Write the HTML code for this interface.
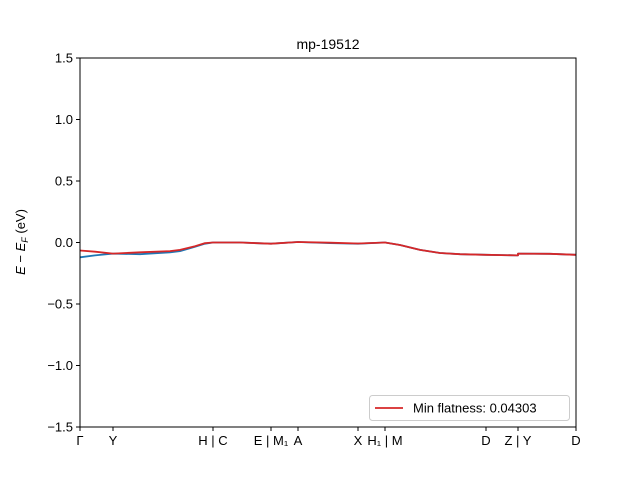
<!DOCTYPE html>
<html><head><meta charset="utf-8"><style>
body{margin:0;background:#fff;}
svg{display:block;font-family:"Liberation Sans","DejaVu Sans",sans-serif;}
</style></head><body>
<svg id="chart" width="640" height="480"></svg>
<script>
const kDist=[0,15,33,60,90,100,115,125,133,160,191,218,250,278,305,320,340,360,380,406,438];
const blueE=[-0.12,-0.105,-0.09,-0.095,-0.08,-0.07,-0.035,-0.01,0,0,-0.01,0.004,-0.005,-0.01,0,-0.02,-0.06,-0.085,-0.095,-0.1,-0.105];
const redE=[-0.065,-0.075,-0.09,-0.08,-0.07,-0.06,-0.03,-0.005,0,0,-0.01,0.004,-0.002,-0.008,0,-0.02,-0.06,-0.085,-0.095,-0.1,-0.105];
const jumpK2=[438,470,496];
const jumpE=[-0.09,-0.092,-0.1];
const tickK=[0,33,133,191,218,278,305,406,438,496];
const tickLabels=["Γ","Y","H | C","E | M₁","A","X","H₁ | M","D","Z | Y","D"];
const yTicks=[-1.5,-1.0,-0.5,0.0,0.5,1.0,1.5];
const L=80,R=576,T=58,B=427;
const xs=k=>L+k/496*(R-L);
const ys=e=>T+(1.5-e)/3*(B-T);
const svg=document.getElementById('chart');
const NS='http://www.w3.org/2000/svg';
function mk(t,a,txt){const e=document.createElementNS(NS,t);for(const k in a)e.setAttribute(k,a[k]);if(txt!==undefined)e.textContent=txt;svg.appendChild(e);return e;}
let e;
e=mk('text',{x:328,y:49,'text-anchor':'middle','font-size':14},'mp-19512');


yTicks.forEach(v=>{
 e=mk('line',{x1:L-4,x2:L,y1:ys(v),y2:ys(v),stroke:'#000'});
 
 
 e=mk('text',{x:L-7,y:ys(v)+4.5,'text-anchor':'end','font-size':13},(v<0?'−':'')+Math.abs(v).toFixed(1));
 
 
});
tickK.forEach((k,i)=>{
 e=mk('line',{x1:xs(k),x2:xs(k),y1:B,y2:B+4,stroke:'#000'});
 
 
 e=mk('text',{x:xs(k),y:B+18,'text-anchor':'middle','font-size':13},tickLabels[i]);
 
 
});
e=mk('text',{x:0,y:0,'font-size':13,'text-anchor':'middle',transform:'translate(25,242) rotate(-90)'});
e.innerHTML='<tspan font-style="italic">E</tspan> − <tspan font-style="italic">E</tspan><tspan font-style="italic" font-size="9" dy="3">F</tspan><tspan dy="-3"> (eV)</tspan>';


function path(ks,es){return ks.map((k,i)=>(i?'L':'M')+xs(k).toFixed(1)+','+ys(es[i]).toFixed(1)).join(' ');}
function full(es){return path(kDist.concat(jumpK2),es.concat(jumpE));}
e=mk('path',{d:full(blueE),fill:'none',stroke:'#1f77b4','stroke-width':1.8,'stroke-linejoin':'round'});


e=mk('path',{d:full(redE),fill:'none',stroke:'#d62728','stroke-width':1.8,'stroke-linejoin':'round'});


e=mk('rect',{x:L,y:T,width:R-L,height:B-T,fill:'none',stroke:'#000','stroke-width':1});


e=mk('rect',{x:369.5,y:395.5,width:200,height:25,fill:'#fff',stroke:'#ccc',rx:3});


e=mk('line',{x1:375,x2:403,y1:408,y2:408,stroke:'#d62728','stroke-width':1.8});


e=mk('text',{x:413,y:412.5,'font-size':13},'Min flatness: 0.04303');


</script>
</body></html>
